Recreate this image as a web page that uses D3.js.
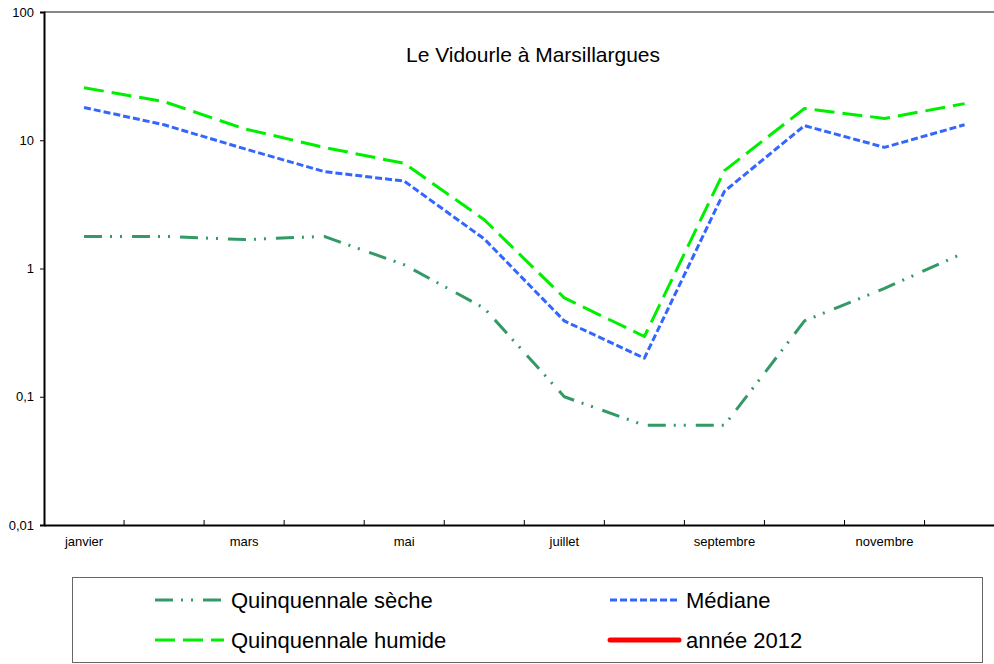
<!DOCTYPE html>
<html>
<head>
<meta charset="utf-8">
<script src="https://cdn.jsdelivr.net/npm/d3@7"></script>
<style>
  body { margin: 0; background: #fff; }
  svg { display: block; font-family: "Liberation Sans", Arial, sans-serif; }
</style>
</head>
<body>
<div id="chart"></div>
<script>
// months on the x axis (only every other one gets a label)
var months = ["janvier", "février", "mars", "avril", "mai", "juin",
              "juillet", "août", "septembre", "octobre", "novembre", "décembre"];

// debits in m3/s
var seche   = [1.78, 1.78, 1.68, 1.78, 1.07, 0.49, 0.10, 0.06, 0.06, 0.39, 0.70, 1.33];
var mediane = [18, 13.2, 8.6, 5.7, 4.8, 1.7, 0.39, 0.20, 4.0, 13, 8.8, 13.2];
var humide  = [25.7, 20, 12.3, 8.8, 6.6, 2.4, 0.59, 0.295, 5.8, 17.7, 14.8, 19.3];
var annee2012 = [];  // no values drawn for 2012

var yTicks = [0.01, 0.1, 1, 10, 100];

var width = 994, height = 664;
var margin = { top: 12, left: 44, bottom: 525 };

var svg = d3.select("#chart")
  .append("svg")
  .attr("width", width)
  .attr("height", height);

var x = d3.scaleBand()
  .domain(months)
  .range([margin.left, margin.left + 12 * 80.05]);

var y = d3.scaleLog()
  .domain([0.01, 100])
  .range([margin.bottom, margin.top]);

// top border of the plot area
svg.append("line")
  .attr("x1", margin.left).attr("x2", width)
  .attr("y1", margin.top).attr("y2", margin.top)
  .attr("stroke", "#888").attr("stroke-width", 2);

// y axis
var yAxis = svg.append("g")
  .attr("transform", "translate(" + margin.left + ",0)")
  .call(d3.axisLeft(y).tickValues(yTicks).tickSize(4).tickPadding(6)
    .tickFormat(d => String(d).replace(".", ",")));
yAxis.select(".domain").attr("stroke", "#000").attr("stroke-width", 2);
yAxis.selectAll("text").attr("font-size", 13).attr("fill", "#000");

// x axis, ticks pointing into the plot
var xAxis = svg.append("g")
  .attr("transform", "translate(0," + margin.bottom + ")")
  .call(d3.axisBottom(x).tickSize(0).tickFormat(d => months.indexOf(d) % 2 == 0 ? d : ""));
xAxis.select(".domain").attr("stroke", "#000").attr("stroke-width", 2);
xAxis.selectAll("text").attr("font-size", 13).attr("fill", "#000").attr("dy", "1.4em");

// tick marks on band boundaries
svg.append("g")
  .selectAll("line")
  .data(months.slice(1))
  .enter()
  .append("line")
  .attr("x1", d => x(d)).attr("x2", d => x(d))
  .attr("y1", margin.bottom).attr("y2", margin.bottom - 5)
  .attr("stroke", "#000").attr("stroke-width", 1);

// title
svg.append("text")
  .attr("x", 533).attr("y", 62)
  .attr("text-anchor", "middle")
  .attr("font-size", 21)
  .text("Le Vidourle à Marsillargues");

var series = [
  { name: "Quinquennale sèche", values: seche, color: "#339966", width: 3, dash: "18,8,2,8,2,10" },
  { name: "Médiane", values: mediane, color: "#3366ff", width: 3, dash: "7,3" },
  { name: "Quinquennale humide", values: humide, color: "#00ee00", width: 3, dash: "20,8" },
  { name: "année 2012", values: annee2012, color: "#ff0000", width: 5, dash: null }
];

var line = d3.line()
  .x((d, i) => x(months[i]) + x.bandwidth() / 2)
  .y(d => y(d));

svg.append("g")
  .selectAll("path")
  .data(series.filter(s => s.values.length > 0))
  .enter()
  .append("path")
  .attr("d", d => line(d.values))
  .attr("fill", "none")
  .attr("stroke", d => d.color)
  .attr("stroke-width", d => d.width)
  .attr("stroke-dasharray", d => d.dash)
  .attr("stroke-linejoin", "round");

// legend box
svg.append("rect")
  .attr("x", 72.5).attr("y", 577.5)
  .attr("width", 910).attr("height", 85)
  .attr("fill", "none")
  .attr("stroke", "#666").attr("stroke-width", 1);

var legendPos = [
  { x: 155, y: 600 }, { x: 610, y: 600 },
  { x: 155, y: 640 }, { x: 610, y: 640 }
];

var legend = svg.append("g")
  .selectAll("g")
  .data(series)
  .enter()
  .append("g")
  .attr("transform", (d, i) => "translate(" + legendPos[i].x + "," + legendPos[i].y + ")");

legend.append("line")
  .attr("x1", 0).attr("x2", 69)
  .attr("stroke", d => d.color)
  .attr("stroke-width", d => d.width)
  .attr("stroke-dasharray", d => d.dash)
  .attr("stroke-linecap", d => d.dash ? "butt" : "round");

legend.append("text")
  .attr("x", 76).attr("y", 8)
  .attr("font-size", 22)
  .text(d => d.name);
</script>
</body>
</html>
